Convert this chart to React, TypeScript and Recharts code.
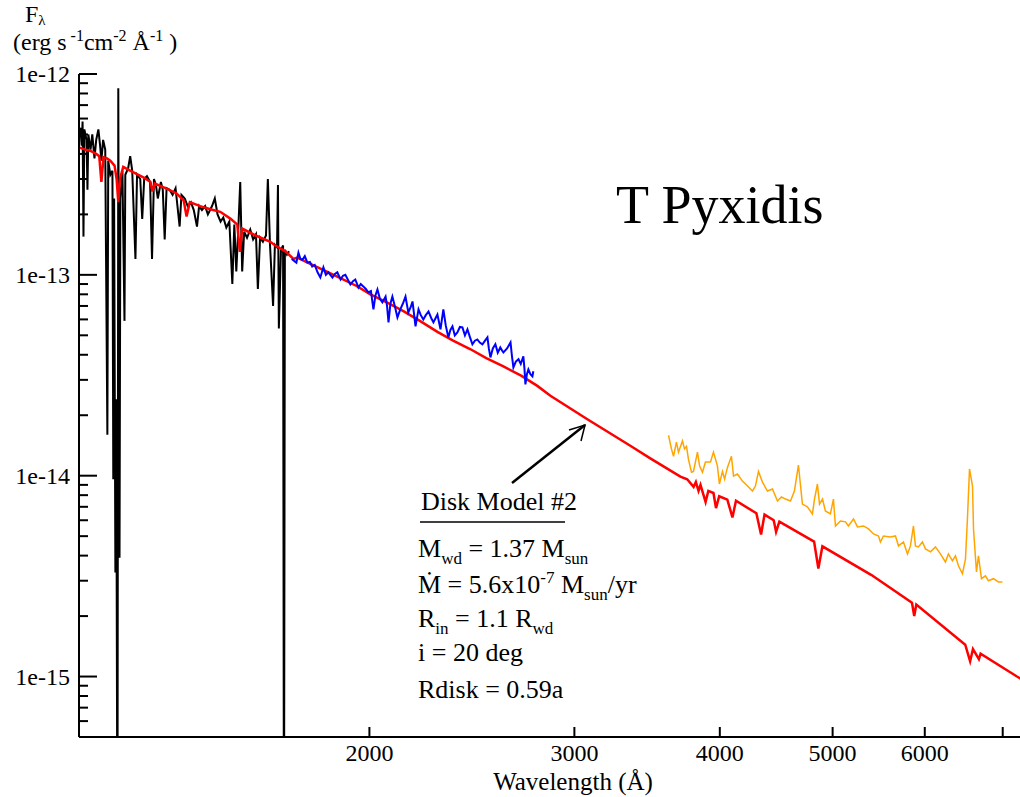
import { LineChart, Line, XAxis, YAxis } from 'recharts'

// axis ranges and ticks (wavelength in Å, flux in erg s-1 cm-2 Å-1)
const X_DOMAIN: [number, number] = [1126, 7330]
const Y_DOMAIN: [number, number] = [5e-16, 1e-12]
const X_TICKS = [2000, 3000, 4000, 5000, 6000, 7000]
const X_TICK_LABELS = ['2000', '3000', '4000', '5000', '6000', '']
const Y_MAJOR = [1e-15, 1e-14, 1e-13, 1e-12]
const Y_MAJOR_LABELS = ['1e-15', '1e-14', '1e-13', '1e-12']
const Y_MINOR = [
  6e-16, 7e-16, 8e-16, 9e-16,
  2e-15, 3e-15, 4e-15, 5e-15, 6e-15, 7e-15, 8e-15, 9e-15,
  2e-14, 3e-14, 4e-14, 5e-14, 6e-14, 7e-14, 8e-14, 9e-14,
  2e-13, 3e-13, 4e-13, 5e-13, 6e-13, 7e-13, 8e-13, 9e-13,
]

// IUE short-wavelength spectrum (black)
const swp: [number, number][] = [
  [1127, 5.2e-13], [1129, 5.4e-13], [1132, 4.4e-13], [1134, 5.8e-13], [1136, 1.55e-13],
  [1138, 5.3e-13], [1143, 4.7e-13], [1145, 2.65e-13], [1147, 5.0e-13], [1152, 4.2e-13],
  [1156, 5.0e-13], [1161, 3.8e-13], [1165, 4.7e-13], [1170, 5.3e-13], [1174, 4.4e-13],
  [1177, 3.7e-13], [1181, 4.7e-13], [1186, 4.2e-13], [1191, 1.6e-14], [1193, 3.7e-13],
  [1198, 3.15e-13], [1203, 3.3e-13], [1205, 9.6e-15], [1207, 2.4e-13], [1210, 3.3e-15],
  [1212, 2.4e-14], [1215, 1e-16], [1217, 8.5e-13], [1220, 3.9e-15], [1222, 2.4e-13],
  [1227, 3.3e-13], [1232, 5.9e-14], [1234, 3.15e-13], [1241, 3.4e-13], [1246, 3.9e-13],
  [1251, 3.3e-13], [1259, 1.2e-13], [1263, 3.15e-13], [1271, 3.0e-13], [1276, 1.9e-13],
  [1281, 3.0e-13], [1288, 3.1e-13], [1296, 2.9e-13], [1301, 1.2e-13], [1306, 3.0e-13],
  [1311, 2.8e-13], [1316, 2.4e-13], [1324, 2.9e-13], [1329, 2.65e-13], [1334, 1.5e-13],
  [1339, 2.7e-13], [1347, 2.65e-13], [1355, 2.5e-13], [1363, 2.7e-13], [1374, 1.74e-13],
  [1379, 2.5e-13], [1388, 2.4e-13], [1396, 2.2e-13], [1405, 2.3e-13], [1413, 2.1e-13],
  [1422, 1.74e-13], [1428, 2.2e-13], [1436, 2.1e-13], [1445, 2.2e-13], [1453, 2.0e-13],
  [1465, 2.2e-13], [1473, 2.4e-13], [1481, 2.0e-13], [1490, 1.84e-13], [1498, 1.93e-13],
  [1507, 1.72e-13], [1516, 1.84e-13], [1525, 9.0e-14], [1531, 1.78e-13], [1537, 1.04e-13],
  [1543, 1.68e-13], [1549, 2.9e-13], [1555, 1.04e-13], [1561, 1.64e-13], [1570, 1.53e-13],
  [1580, 1.68e-13], [1589, 1.5e-13], [1598, 1.59e-13], [1604, 8.5e-14], [1611, 1.53e-13],
  [1620, 1.46e-13], [1630, 1.57e-13], [1636, 3.0e-13], [1643, 1.41e-13], [1653, 7.0e-14],
  [1659, 1.41e-13], [1666, 1.37e-13], [1669, 2.8e-13], [1672, 5.4e-14], [1679, 1.33e-13],
  [1686, 1.4e-13], [1689, 1e-16], [1692, 1.33e-13], [1699, 1.26e-13], [1706, 1.31e-13],
]

// IUE long-wavelength spectrum (blue)
const lwp: [number, number][] = [
  [1715, 1.2e-13], [1731, 1.15e-13], [1738, 1.29e-13], [1745, 1.2e-13], [1752, 1.19e-13],
  [1760, 1.24e-13], [1769, 1.15e-13], [1778, 1.16e-13], [1786, 1.10e-13], [1795, 1.12e-13],
  [1805, 1.03e-13], [1815, 9.7e-14], [1826, 1.09e-13], [1835, 1.0e-13], [1844, 1.03e-13],
  [1859, 9.7e-14], [1868, 1.01e-13], [1877, 1.03e-13], [1889, 9.48e-14], [1898, 9.9e-14],
  [1907, 1.0e-13], [1926, 8.95e-14], [1936, 9.3e-14], [1945, 9.48e-14], [1957, 8.65e-14],
  [1966, 9.0e-14], [1976, 8.76e-14], [1986, 8.5e-14], [1996, 8.17e-14], [2006, 8.3e-14],
  [2016, 6.73e-14], [2024, 7.9e-14], [2032, 8.45e-14], [2042, 7.6e-14], [2052, 7.29e-14],
  [2065, 7.8e-14], [2071, 7.0e-14], [2077, 5.8e-14], [2085, 7.2e-14], [2093, 7.8e-14],
  [2103, 7.0e-14], [2114, 6.14e-14], [2126, 6.73e-14], [2137, 7.2e-14], [2148, 7.8e-14],
  [2160, 6.5e-14], [2170, 6.9e-14], [2178, 7.37e-14], [2191, 5.54e-14], [2204, 6.73e-14],
  [2214, 6.3e-14], [2225, 6.0e-14], [2236, 6.3e-14], [2248, 6.57e-14], [2260, 6.1e-14],
  [2270, 5.8e-14], [2280, 6.1e-14], [2288, 6.35e-14], [2302, 5.35e-14], [2315, 6.73e-14],
  [2326, 5.6e-14], [2338, 4.88e-14], [2347, 5.3e-14], [2357, 5.54e-14], [2368, 5.0e-14],
  [2380, 5.17e-14], [2392, 5.5e-14], [2404, 5.47e-14], [2416, 5.0e-14], [2428, 5.35e-14],
  [2440, 4.9e-14], [2452, 4.51e-14], [2464, 4.7e-14], [2476, 4.77e-14], [2488, 4.6e-14],
  [2501, 4.51e-14], [2514, 4.7e-14], [2526, 4.88e-14], [2533, 4.3e-14], [2541, 3.88e-14],
  [2553, 4.3e-14], [2566, 4.51e-14], [2578, 4.1e-14], [2591, 4.35e-14], [2600, 4.2e-14],
  [2607, 4.11e-14], [2626, 4.3e-14], [2644, 4.61e-14], [2652, 3.9e-14], [2659, 3.46e-14],
  [2672, 3.7e-14], [2686, 3.8e-14], [2698, 3.6e-14], [2712, 3.93e-14], [2718, 3.4e-14],
  [2723, 2.85e-14], [2731, 3.2e-14], [2739, 3.38e-14], [2750, 3.2e-14], [2761, 3.12e-14],
  [2766, 3.31e-14],
]

// optical spectrum (orange)
const optical: [number, number][] = [
  [3614, 1.59e-14], [3635, 1.36e-14], [3650, 1.25e-14], [3671, 1.47e-14], [3686, 1.31e-14],
  [3715, 1.49e-14], [3730, 1.36e-14], [3745, 1.40e-14], [3759, 1.21e-14], [3782, 1.04e-14],
  [3797, 1.05e-14], [3827, 1.31e-14], [3843, 1.12e-14], [3865, 1.04e-14], [3888, 1.17e-14],
  [3927, 1.17e-14], [3950, 1.31e-14], [3981, 1.12e-14], [3997, 9.09e-15], [4021, 1.05e-14],
  [4038, 9.62e-15], [4061, 1.10e-14], [4093, 1.25e-14], [4110, 9.96e-15], [4142, 1.02e-14],
  [4183, 9.40e-15], [4225, 8.88e-15], [4267, 8.39e-15], [4292, 8.88e-15], [4318, 1.05e-14],
  [4352, 9.29e-15], [4395, 8.39e-15], [4439, 8.58e-15], [4483, 7.48e-15], [4519, 7.83e-15],
  [4555, 7.65e-15], [4600, 7.48e-15], [4636, 8.39e-15], [4673, 1.13e-14], [4710, 7.22e-15],
  [4757, 6.99e-15], [4804, 6.45e-15], [4824, 7.65e-15], [4852, 9.09e-15], [4872, 7.22e-15],
  [4901, 7.65e-15], [4929, 6.67e-15], [4978, 6.45e-15], [5008, 7.65e-15], [5028, 5.62e-15],
  [5078, 5.95e-15], [5129, 5.89e-15], [5159, 5.62e-15], [5211, 6.09e-15], [5252, 5.56e-15],
  [5315, 5.62e-15], [5368, 5.43e-15], [5421, 5.13e-15], [5475, 5.01e-15], [5496, 4.68e-15],
  [5529, 5.01e-15], [5606, 4.95e-15], [5662, 5.01e-15], [5696, 4.47e-15], [5752, 4.68e-15],
  [5798, 4.08e-15], [5832, 4.47e-15], [5867, 5.62e-15], [5890, 4.47e-15], [5925, 4.42e-15],
  [5972, 4.68e-15], [6008, 4.32e-15], [6068, 4.18e-15], [6128, 4.42e-15], [6188, 4.08e-15],
  [6250, 3.72e-15], [6287, 4.08e-15], [6337, 3.77e-15], [6375, 3.99e-15], [6413, 3.56e-15],
  [6464, 3.25e-15], [6503, 3.85e-15], [6528, 6.09e-15], [6555, 1.08e-14], [6594, 8.88e-15],
  [6607, 5.43e-15], [6646, 3.32e-15], [6672, 3.99e-15], [6712, 3.07e-15], [6765, 3.17e-15],
  [6805, 3.00e-15], [6873, 3.07e-15], [6941, 2.96e-15], [6996, 2.96e-15],
]

// disk model #2 (red)
const model: [number, number][] = [
  [1127, 4.3e-13], [1140, 4.2e-13], [1151, 4.15e-13], [1165, 4.0e-13], [1172, 3.9e-13],
  [1177, 2.9e-13], [1182, 3.85e-13], [1190, 3.8e-13], [1198, 3.7e-13], [1208, 3.5e-13],
  [1213, 3.0e-13], [1217, 2.3e-13], [1221, 3.0e-13], [1229, 3.45e-13], [1240, 3.35e-13],
  [1259, 3.2e-13], [1280, 3.05e-13], [1297, 2.9e-13], [1302, 2.6e-13], [1308, 2.85e-13],
  [1336, 2.7e-13], [1365, 2.55e-13], [1385, 2.35e-13], [1393, 1.95e-13], [1402, 2.3e-13],
  [1431, 2.2e-13], [1460, 2.12e-13], [1489, 2.06e-13], [1520, 1.9e-13], [1540, 1.78e-13],
  [1548, 1.3e-13], [1555, 1.7e-13], [1597, 1.57e-13], [1644, 1.46e-13], [1660, 1.4e-13],
  [1694, 1.31e-13], [1721, 1.2e-13], [1734, 1.22e-13], [1800, 1.1e-13], [1877, 9.8e-14],
  [1950, 8.8e-14], [2004, 8.0e-14], [2070, 7.3e-14], [2139, 6.6e-14], [2210, 5.9e-14],
  [2288, 5.2e-14], [2360, 4.7e-14], [2443, 4.26e-14], [2520, 3.85e-14], [2607, 3.5e-14],
  [2700, 3.15e-14], [2788, 2.8e-14], [2861, 2.5e-14], [3078, 1.91e-14], [3351, 1.41e-14],
  [3486, 1.22e-14], [3700, 9.9e-15], [3750, 9.6e-15], [3798, 8.8e-15], [3815, 9.3e-15],
  [3835, 8.4e-15], [3850, 9.0e-15], [3889, 7.4e-15], [3910, 8.4e-15], [3950, 8.2e-15],
  [3970, 6.9e-15], [3995, 7.9e-15], [4060, 7.6e-15], [4101, 6.2e-15], [4130, 7.5e-15],
  [4300, 6.5e-15], [4340, 5.1e-15], [4370, 6.4e-15], [4450, 6.0e-15], [4471, 5.25e-15],
  [4500, 5.9e-15], [4820, 4.7e-15], [4861, 3.45e-15], [4900, 4.45e-15], [5400, 3.2e-15],
  [5850, 2.33e-15], [5876, 2.0e-15], [5900, 2.28e-15], [6500, 1.44e-15], [6563, 1.19e-15],
  [6600, 1.37e-15], [6678, 1.22e-15], [6700, 1.3e-15], [7200, 1.0e-15], [7330, 0.94e-15],
]

const FONT = '"Liberation Serif", "Times New Roman", Times, serif'

const rows = (pairs: [number, number][]) => pairs.map(([w, f]) => ({ w, f }))

function LeftTick(props: any) {
  const { x, y, payload } = props
  const i = Y_MAJOR.indexOf(payload.value)
  return (
    <g>
      <line x1={x} x2={x + (i >= 0 ? 18 : 9)} y1={y} y2={y} stroke="#000" strokeWidth={2} />
      {i >= 0 && (
        <text x={x - 9} y={y + 8} textAnchor="end" fontSize={24} fontFamily={FONT} fill="#000">
          {Y_MAJOR_LABELS[i]}
        </text>
      )}
    </g>
  )
}

function RightTick(props: any) {
  const { x, y, payload } = props
  const major = Y_MAJOR.includes(payload.value)
  return <line x1={x} x2={x - (major ? 19 : 9)} y1={y} y2={y} stroke="#000" strokeWidth={2} />
}

function BottomTick(props: any) {
  const { x, y, payload } = props
  const label = X_TICK_LABELS[X_TICKS.indexOf(payload.value)]
  return (
    <g>
      <line x1={x} x2={x} y1={y} y2={y - 10} stroke="#000" strokeWidth={2} />
      {label && (
        <text x={x} y={y + 24} textAnchor="middle" fontSize={24} fontFamily={FONT} fill="#000">
          {label}
        </text>
      )}
    </g>
  )
}

const axisLine = { stroke: '#000', strokeWidth: 2 }

export default function App() {
  return (
    <div style={{ position: 'absolute', left: 0, top: 0, width: 1020, height: 797, overflow: 'hidden', background: '#fff' }}>
      <LineChart width={1030} height={797} margin={{ top: 74, right: 4, bottom: 0, left: 0 }}>
        <XAxis
          dataKey="w"
          type="number"
          scale="log"
          domain={X_DOMAIN}
          allowDataOverflow
          ticks={X_TICKS}
          interval={0}
          height={60}
          tickSize={0}
          tickMargin={0}
          tickLine={false}
          tick={BottomTick}
          axisLine={axisLine}
        />
        <XAxis
          xAxisId="top"
          orientation="top"
          type="number"
          scale="log"
          domain={X_DOMAIN}
          allowDataOverflow
          height={0}
          tick={false}
          tickLine={false}
          axisLine={axisLine}
        />
        <YAxis
          type="number"
          scale="log"
          domain={Y_DOMAIN}
          allowDataOverflow
          ticks={[...Y_MINOR, ...Y_MAJOR]}
          interval={0}
          width={79}
          tickSize={0}
          tickMargin={0}
          tickLine={false}
          tick={LeftTick}
          axisLine={axisLine}
        />
        <YAxis
          yAxisId="right"
          orientation="right"
          type="number"
          scale="log"
          domain={Y_DOMAIN}
          allowDataOverflow
          ticks={[...Y_MINOR, ...Y_MAJOR]}
          interval={0}
          width={0}
          tickSize={0}
          tickMargin={0}
          tickLine={false}
          tick={RightTick}
          axisLine={axisLine}
        />
        <Line data={rows(swp)} dataKey="f" stroke="#000" strokeWidth={2} dot={false} isAnimationActive={false} />
        <Line data={rows(model)} dataKey="f" stroke="#ff0000" strokeWidth={2.5} dot={false} isAnimationActive={false} />
        <Line data={rows(lwp)} dataKey="f" stroke="#0000ff" strokeWidth={2} dot={false} isAnimationActive={false} />
        <Line data={rows(optical)} dataKey="f" stroke="#ffa500" strokeWidth={1.5} dot={false} isAnimationActive={false} />
      </LineChart>

      <svg width={1020} height={797} style={{ position: 'absolute', left: 0, top: 0, pointerEvents: 'none' }} fontFamily={FONT} fill="#000">
        {/* y axis title */}
        <text x={25} y={22} fontSize={24}>
          F<tspan fontSize={15} dy={3}>λ</tspan>
        </text>
        <text x={13} y={50} fontSize={24}>
          (erg s<tspan fontSize={16} dy={-9}> -1</tspan>
          <tspan dy={9}>cm</tspan>
          <tspan fontSize={16} dy={-9}>-2</tspan>
          <tspan dy={9}> Å</tspan>
          <tspan fontSize={16} dy={-9}>-1</tspan>
          <tspan dy={9}> )</tspan>
        </text>

        {/* x axis title */}
        <text x={573} y={790} fontSize={25} textAnchor="middle">Wavelength (Å)</text>

        <text x={616} y={223} fontSize={54}>T Pyxidis</text>

        {/* arrow to the model curve */}
        <line x1={512} y1={483} x2={585} y2={425} stroke="#000" strokeWidth={2.5} />
        <polyline points="569,430 585,425 581,441" fill="none" stroke="#000" strokeWidth={1.5} />

        {/* model parameters */}
        <text x={421} y={510} fontSize={26}>Disk Model #2</text>
        <line x1={420} y1={522} x2={565} y2={522} stroke="#000" strokeWidth={1.5} />
        <text x={418} y={557} fontSize={26}>
          M<tspan fontSize={17} dy={7}>wd</tspan>
          <tspan dy={-7}> = 1.37 M</tspan>
          <tspan fontSize={17} dy={7}>sun</tspan>
        </text>
        <text x={418} y={593} fontSize={26}>
          Ṁ = 5.6x10<tspan fontSize={17} dy={-10}>-7</tspan>
          <tspan dy={10}> M</tspan>
          <tspan fontSize={17} dy={7}>sun</tspan>
          <tspan dy={-7}>/yr</tspan>
        </text>
        <text x={418} y={627} fontSize={26}>
          R<tspan fontSize={17} dy={7}>in</tspan>
          <tspan dy={-7}> = 1.1 R</tspan>
          <tspan fontSize={17} dy={7}>wd</tspan>
        </text>
        <text x={418} y={661} fontSize={26}>i = 20 deg</text>
        <text x={418} y={698} fontSize={26}>Rdisk = 0.59a</text>
      </svg>
    </div>
  )
}
